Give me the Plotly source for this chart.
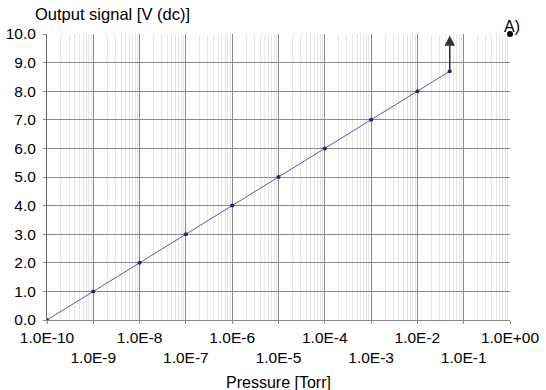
import numpy as np
import plotly.graph_objects as go

# measured curve
pressure = [1e-10, 1e-9, 1e-8, 1e-7, 1e-6, 1e-5, 1e-4, 1e-3, 1e-2, 5e-2]
signal = [0.0, 1.0, 2.0, 3.0, 4.0, 5.0, 6.0, 7.0, 8.0, 8.7]

# point A) and arrow top
point_a = (1.0, 10.0)
arrow_top = 9.95

tick_vals = [10.0 ** e for e in range(-10, 1)]
tick_text = ["1.0E-10", "1.0E-9", "1.0E-8", "1.0E-7", "1.0E-6", "1.0E-5",
             "1.0E-4", "1.0E-3", "1.0E-2", "1.0E-1", "1.0E+00"]
y_ticks = [0, 1, 2, 3, 4, 5, 6, 7, 8, 9, 10]

font = "Liberation Sans, Arial, sans-serif"

fig = go.Figure()

fig.add_trace(go.Scatter(
    x=pressure, y=signal, mode="lines+markers",
    line=dict(color="#5a5aa8", width=1),
    marker=dict(color="#1f2470", size=4),
    showlegend=False, hoverinfo="skip",
))

fig.add_trace(go.Scatter(
    x=[point_a[0]], y=[point_a[1]], mode="markers",
    marker=dict(color="black", size=6),
    showlegend=False, hoverinfo="skip", cliponaxis=False,
))

# arrow from last point upward
fig.add_annotation(
    x=np.log10(pressure[-1]), y=arrow_top, ax=np.log10(pressure[-1]), ay=signal[-1],
    xref="x", yref="y", axref="x", ayref="y",
    showarrow=True, arrowhead=2, arrowsize=1.3, arrowwidth=1.6, arrowcolor="#333",
    text="",
)

fig.add_annotation(
    x=np.log10(point_a[0]), y=point_a[1], xref="x", yref="y",
    text="A)", showarrow=False, xanchor="center", yanchor="bottom",
    xshift=2, yshift=-3, font=dict(size=16, color="black", family=font),
)

fig.add_annotation(
    x=0, y=1, xref="paper", yref="paper", text="Output signal [V (dc)]",
    showarrow=False, xanchor="left", yanchor="middle", xshift=-14, yshift=20,
    font=dict(size=16.5, color="black", family=font),
)

fig.add_annotation(
    x=0.5, y=0, xref="paper", yref="paper", text="Pressure [Torr]",
    showarrow=False, xanchor="center", yanchor="middle", yshift=-62,
    font=dict(size=16, color="black", family=font),
)

labels = [t if i % 2 == 0 else "<br>" + t for i, t in enumerate(tick_text)]

fig.update_xaxes(
    type="log", range=[-10, 0],
    tickvals=tick_vals, ticktext=labels, tickangle=0,
    tickfont=dict(size=15.5, color="black", family=font),
    showgrid=True, gridcolor="#8a8a8a", gridwidth=1,
    minor=dict(showgrid=True, gridcolor="#e6e6e6", gridwidth=1,
               tickvals=[m * 10.0 ** e for e in range(-10, 0) for m in range(2, 10)]),
    showline=True, linecolor="#888", linewidth=1,
    ticks="outside", ticklen=3, tickcolor="#888",
    zeroline=False, automargin=False,
)
fig.update_yaxes(
    range=[0, 10], tickvals=y_ticks, ticktext=[f"{v:.1f}" for v in y_ticks],
    tickfont=dict(size=15.5, color="black", family=font),
    showgrid=True, gridcolor="#8a8a8a", gridwidth=1,
    showline=True, linecolor="#666", linewidth=1,
    ticks="outside", ticklen=3, tickcolor="#888", ticklabelstandoff=4,
    zeroline=False, automargin=False,
)

fig.update_layout(
    width=546, height=390,
    margin=dict(l=47, r=36, t=34, b=70),
    plot_bgcolor="white", paper_bgcolor="white",
    font=dict(family=font, color="black"),
)

fig.write_html("out.html", config={"displayModeBar": False},
               post_script="document.body.style.margin='0';")
